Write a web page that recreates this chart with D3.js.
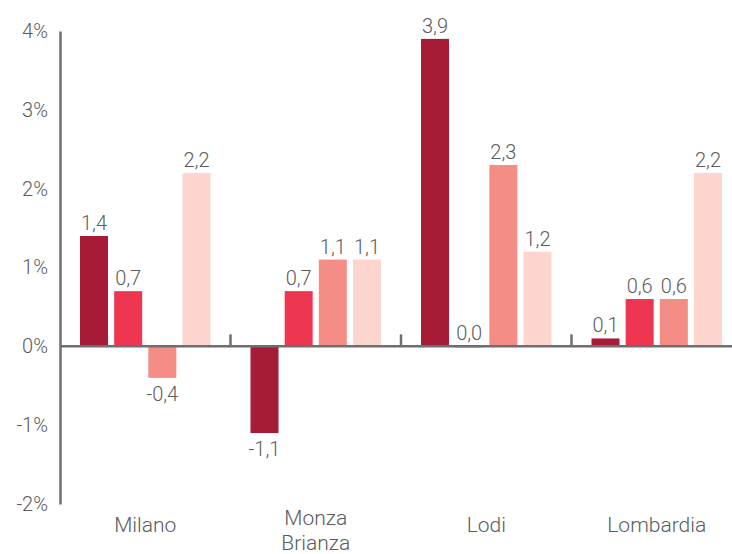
<!DOCTYPE html>
<html>
<head>
<meta charset="utf-8">
<script src="https://cdn.jsdelivr.net/npm/d3@7"></script>
<style>
  body { margin: 0; background: #fff; }
  text { font-family: Roboto, "Open Sans", sans-serif; font-weight: 300; fill: #5b5b5e; }
</style>
</head>
<body>
<script>
// data
var categories = ["Milano", "Monza Brianza", "Lodi", "Lombardia"];
var series = ["s1", "s2", "s3", "s4"];
var seriesColors = ["#a61b36", "#ee3650", "#f48d86", "#fcd5cf"];
var values = [
  [1.4, 0.7, -0.4, 2.2],
  [-1.1, 0.7, 1.1, 1.1],
  [3.9, 0.0, 2.3, 1.2],
  [0.1, 0.6, 0.6, 2.2]
];
var yTicks = [-2, -1, 0, 1, 2, 3, 4];

var width = 732, height = 554;

var svg = d3.select("body").append("svg")
  .attr("width", width)
  .attr("height", height);

var y = d3.scaleLinear().domain([-2, 4]).range([504, 31]);

var x0 = d3.scaleBand().domain(categories).range([60, 742]);
var x1 = d3.scaleBand().domain(series)
  .range([20, x0.bandwidth() - 20])
  .paddingInner(0.18);

var color = d3.scaleOrdinal().domain(series).range(seriesColors);

// plain hyphen and decimal comma, like the source
var locale = d3.formatLocale({ decimal: ",", thousands: ".", grouping: [3], currency: ["", "€"], minus: "-" });
var fmt = locale.format(".1f");

// bars
var groups = svg.selectAll("g.grp")
  .data(categories)
  .enter().append("g")
  .attr("class", "grp")
  .attr("transform", function(d) { return "translate(" + x0(d) + ",0)"; });

groups.each(function(c, ci) {
  var g = d3.select(this);
  var rows = values[ci].map(function(v, i) { return { s: series[i], v: v }; });

  g.selectAll("rect")
    .data(rows)
    .enter().append("rect")
    .attr("x", function(d) { return x1(d.s); })
    .attr("width", x1.bandwidth())
    .attr("y", function(d) { return d.v >= 0 ? y(d.v) : y(0); })
    .attr("height", function(d) { return Math.max(1, Math.abs(y(d.v) - y(0))); })
    .attr("fill", function(d) { return color(d.s); });

  g.selectAll("text.val")
    .data(rows)
    .enter().append("text")
    .attr("class", "val")
    .attr("x", function(d) { return x1(d.s) + x1.bandwidth() / 2; })
    .attr("y", function(d) { return d.v >= 0 ? y(d.v) - 6 : y(d.v) + 23; })
    .attr("text-anchor", "middle")
    .style("font-size", "20px")
    .text(function(d) { return fmt(d.v); });
});

// y axis
var yAxis = svg.append("g")
  .attr("transform", "translate(60,0)")
  .call(d3.axisLeft(y).tickValues(yTicks).tickSize(0).tickPadding(12)
    .tickFormat(function(d) { return d + "%"; }));
yAxis.select(".domain").attr("stroke", "#6d6e71").attr("stroke-width", 2.5);
yAxis.selectAll("text")
  .style("font-size", "20px")
  .style("font-family", "Roboto, sans-serif")
  .attr("fill", "#5b5b5e");

// zero line
svg.append("line")
  .attr("x1", 60).attr("x2", width)
  .attr("y1", y(0)).attr("y2", y(0))
  .attr("stroke", "#6d6e71")
  .attr("stroke-width", 2.5);

// group separator ticks
svg.selectAll("line.sep")
  .data(categories.slice(1))
  .enter().append("line")
  .attr("class", "sep")
  .attr("x1", function(d) { return x0(d); })
  .attr("x2", function(d) { return x0(d); })
  .attr("y1", y(0))
  .attr("y2", y(0) - 12)
  .attr("stroke", "#6d6e71")
  .attr("stroke-width", 2.5);

// category labels
svg.selectAll("text.cat")
  .data(categories)
  .enter().append("text")
  .attr("class", "cat")
  .attr("text-anchor", "middle")
  .style("font-size", "21px")
  .each(function(d) {
    var words = d.split(" ");
    var t = d3.select(this);
    var cx = x0(d) + x0.bandwidth() / 2;
    var startY = words.length > 1 ? 525 : 532;
    words.forEach(function(w, i) {
      t.append("tspan")
        .attr("x", cx)
        .attr("y", startY + i * 25)
        .text(w);
    });
  });
</script>
</body>
</html>
